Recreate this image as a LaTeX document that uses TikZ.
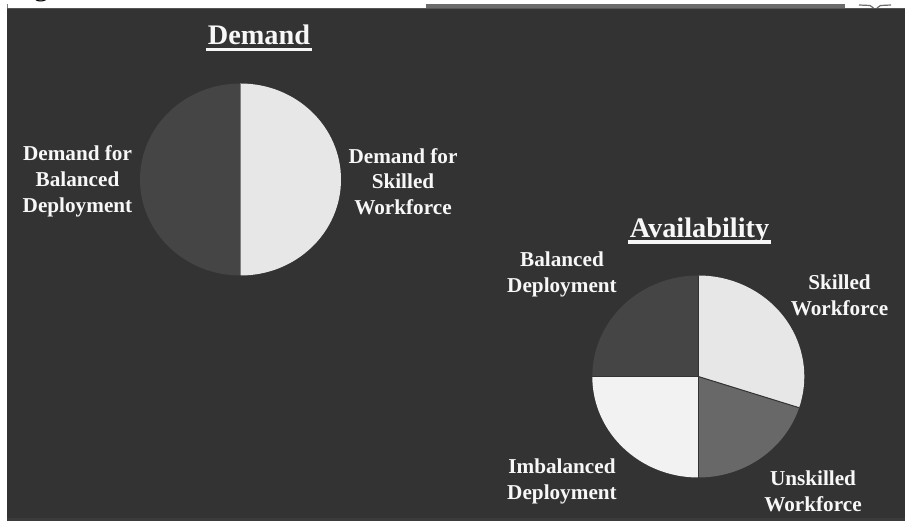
\documentclass[tikz,border=0pt]{standalone}
\usepackage{fontspec}
\setmainfont{Liberation Serif}
\begin{document}
\begin{tikzpicture}[x=1pt,y=-1pt,
  lbl/.style={text=labelwhite,font=\fontsize{21.2}{25.8}\selectfont\bfseries,align=center,inner sep=0pt},
  ttl/.style={text=labelwhite,font=\fontsize{28.3}{32}\selectfont\bfseries,inner sep=0pt,anchor=base},
  uline/.style={fill=labelwhite},
  sep/.style={draw=bgdark,line width=1pt,line join=round}]
\definecolor{bgdark}{HTML}{333333}
\definecolor{bgedge}{HTML}{3B3B3B}
\definecolor{bgline}{HTML}{555555}
\definecolor{labelwhite}{HTML}{F7F7F7}
\definecolor{slicedark}{HTML}{454545}
\definecolor{slicelight}{HTML}{E7E7E7}
\definecolor{slicemid}{HTML}{686868}
\definecolor{slicepale}{HTML}{F2F2F2}
\definecolor{stripgray}{HTML}{6B6B6B}
\useasboundingbox (0,0) rectangle (905,521);
\fill[white] (0,0) rectangle (905,521);
% tail of a heading letter above the panel
\node[anchor=base,inner sep=0pt,font=\fontsize{30}{30}\selectfont] (gtail) at (41,-4) {g};
% strip of the header bar and a small mark at the right
\fill[stripgray] (426,4) rectangle (845,8);
\draw[stripgray,line width=1.2pt] (859,5) -- (870,5.5) -- (873.5,8);
\draw[stripgray,line width=1.2pt] (877,8) -- (880.5,5.5) -- (891,5);
\draw[gray,line width=0.8pt] (7.4,4) -- (7.4,8);
% dark panel
\fill[bgdark] (7,8) rectangle (905,518);
\fill[bgedge] (7,518) rectangle (905,521);
\draw[bgline,line width=0.6pt] (7,8.3) -- (905,8.3);

% ---------- Demand pie ----------
\begin{scope}[shift={(240.5,179.5)},x=100.5pt,y=96pt]
  \fill[slicedark] (0,0) -- (90:1) arc[start angle=90,end angle=270,radius=1] -- cycle;
  \fill[slicelight] (0,0) -- (-90:1) arc[start angle=-90,end angle=90,radius=1] -- cycle;
  \draw[gray,line width=0.8pt] (90:1) -- (-90:1);
\end{scope}
\node[ttl] (demandtitle) at (259,45) {Demand};
\fill[uline] (206,47.7) rectangle (312,51);
\node[lbl] (dembal) at (77.5,181.5) {Demand for\\Balanced\\Deployment};
\node[lbl] (demskill) at (403,181.5) {Demand for\\Skilled\\Workforce};

% ---------- Availability pie ----------
\begin{scope}[shift={(698.3,376.5)},x=106pt,y=101pt]
  \fill[slicelight] (0,0) -- (90:1) arc[start angle=90,end angle=-18,radius=1] -- cycle;
  \fill[slicemid] (0,0) -- (-18:1) arc[start angle=-18,end angle=-90,radius=1] -- cycle;
  \fill[slicepale] (0,0) -- (-90:1) arc[start angle=-90,end angle=-180,radius=1] -- cycle;
  \fill[slicedark] (0,0) -- (180:1) arc[start angle=180,end angle=90,radius=1] -- cycle;
  \draw[sep] (90:1) -- (0,0) -- (-18:1);
  \draw[sep] (-90:1) -- (0,0) -- (180:1);
\end{scope}
\node[ttl] (availtitle) at (699.5,238) {Availability};
\fill[uline] (628,240.5) rectangle (771,243.6);
\node[lbl] (avbal) at (562,274.5) {Balanced\\Deployment};
\node[lbl] (avskill) at (839.5,295.5) {Skilled\\Workforce};
\node[lbl] (avunskill) at (813,491.5) {Unskilled\\Workforce};
\node[lbl] (avimbal) at (562,481.5) {Imbalanced\\Deployment};
\end{tikzpicture}
\end{document}
